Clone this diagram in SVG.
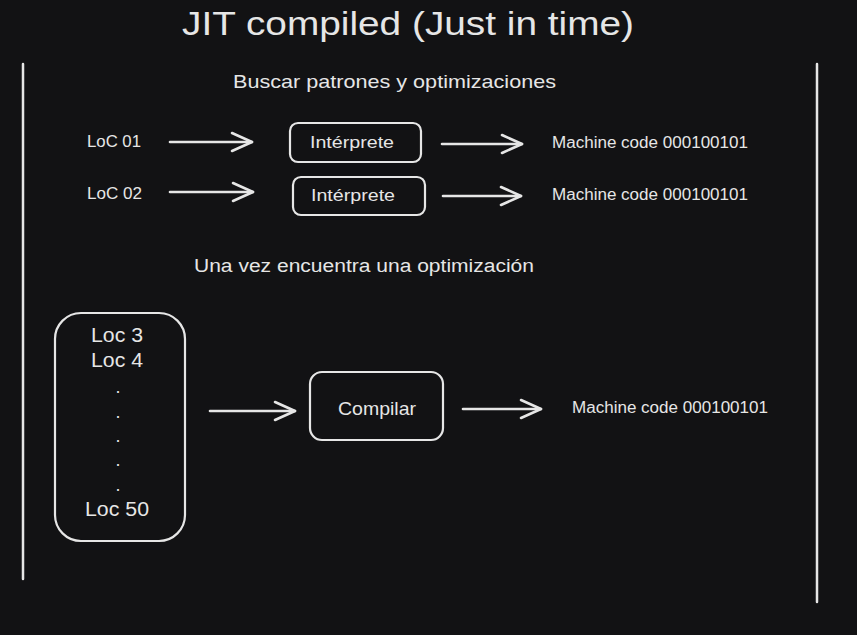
<svg xmlns="http://www.w3.org/2000/svg" width="857" height="635" viewBox="0 0 857 635">
<style>
.t{font-family:"Liberation Sans","DejaVu Sans",sans-serif;fill:#e6e6e6}
.box{fill:none;stroke:#e6e6e6;stroke-width:2.2}
.line{stroke:#e6e6e6;stroke-width:2.5;fill:none;stroke-linecap:round}
.arr{stroke:#e6e6e6;stroke-width:2.6;fill:none;stroke-linecap:round;marker-end:url(#ah)}
</style>
<defs>
<marker id="ah" markerUnits="userSpaceOnUse" markerWidth="30" markerHeight="30" refX="24" refY="12" orient="auto">
<polyline points="4,3 24,12 4,21" fill="none" stroke="#e6e6e6" stroke-width="2.6" stroke-linecap="round" stroke-linejoin="round"/>
</marker>
</defs>
<rect width="857" height="635" fill="#121214"/>
<g id="title"><text class="t" x="408" y="35" font-size="34" text-anchor="middle" textLength="452" lengthAdjust="spacingAndGlyphs">JIT compiled (Just in time)</text></g>
<g id="borders">
<line class="line" x1="23" y1="64" x2="23" y2="579"/>
<line class="line" x1="817" y1="64" x2="817" y2="602"/>
</g>
<g id="heading1"><text class="t" x="233" y="88" font-size="19" textLength="323" lengthAdjust="spacingAndGlyphs">Buscar patrones y optimizaciones</text></g>
<g id="loc01"><text class="t" x="87" y="147" font-size="16" textLength="54" lengthAdjust="spacingAndGlyphs">LoC 01</text></g>
<g id="loc02"><text class="t" x="87" y="199" font-size="16" textLength="55" lengthAdjust="spacingAndGlyphs">LoC 02</text></g>
<g id="interp1"><rect class="box" x="290" y="123" width="131" height="39" rx="8"/><text class="t" x="352" y="148" font-size="16" text-anchor="middle" textLength="84" lengthAdjust="spacingAndGlyphs">Intérprete</text></g>
<g id="interp2"><rect class="box" x="293" y="177" width="132" height="38" rx="8"/><text class="t" x="353" y="201" font-size="16" text-anchor="middle" textLength="84" lengthAdjust="spacingAndGlyphs">Intérprete</text></g>
<g id="mc1"><text class="t" x="552" y="148" font-size="16" textLength="196" lengthAdjust="spacingAndGlyphs">Machine code 000100101</text></g>
<g id="mc2"><text class="t" x="552" y="200" font-size="16" textLength="196" lengthAdjust="spacingAndGlyphs">Machine code 000100101</text></g>
<g id="heading2"><text class="t" x="194" y="272" font-size="18" textLength="340" lengthAdjust="spacingAndGlyphs">Una vez encuentra una optimización</text></g>
<g id="locs">
<rect class="box" x="55" y="313" width="130" height="228" rx="26"/>
<text class="t" x="117" y="342" font-size="20" text-anchor="middle" textLength="52" lengthAdjust="spacingAndGlyphs">Loc 3</text>
<text class="t" x="117" y="367" font-size="20" text-anchor="middle" textLength="52" lengthAdjust="spacingAndGlyphs">Loc 4</text>
<text class="t" x="118" y="393" font-size="18" text-anchor="middle">.</text>
<text class="t" x="118" y="418" font-size="18" text-anchor="middle">.</text>
<text class="t" x="118" y="442" font-size="18" text-anchor="middle">.</text>
<text class="t" x="118" y="466" font-size="18" text-anchor="middle">.</text>
<text class="t" x="118" y="491" font-size="18" text-anchor="middle">.</text>
<text class="t" x="117" y="516" font-size="20" text-anchor="middle" textLength="64" lengthAdjust="spacingAndGlyphs">Loc 50</text>
</g>
<g id="compilar"><rect class="box" x="310" y="372" width="133" height="68" rx="12"/><text class="t" x="377" y="415" font-size="19" text-anchor="middle" textLength="78" lengthAdjust="spacingAndGlyphs">Compilar</text></g>
<g id="mc3"><text class="t" x="572" y="413" font-size="16" textLength="196" lengthAdjust="spacingAndGlyphs">Machine code 000100101</text></g>
<g id="connectors">
<line class="arr" x1="170" y1="142" x2="252" y2="142"/>
<line class="arr" x1="442" y1="144" x2="522" y2="144"/>
<line class="arr" x1="170" y1="192" x2="253" y2="192"/>
<line class="arr" x1="443" y1="196" x2="521" y2="196"/>
<line class="arr" x1="210" y1="411" x2="295" y2="411"/>
<line class="arr" x1="463" y1="409" x2="541" y2="409"/>
</g>
</svg>
